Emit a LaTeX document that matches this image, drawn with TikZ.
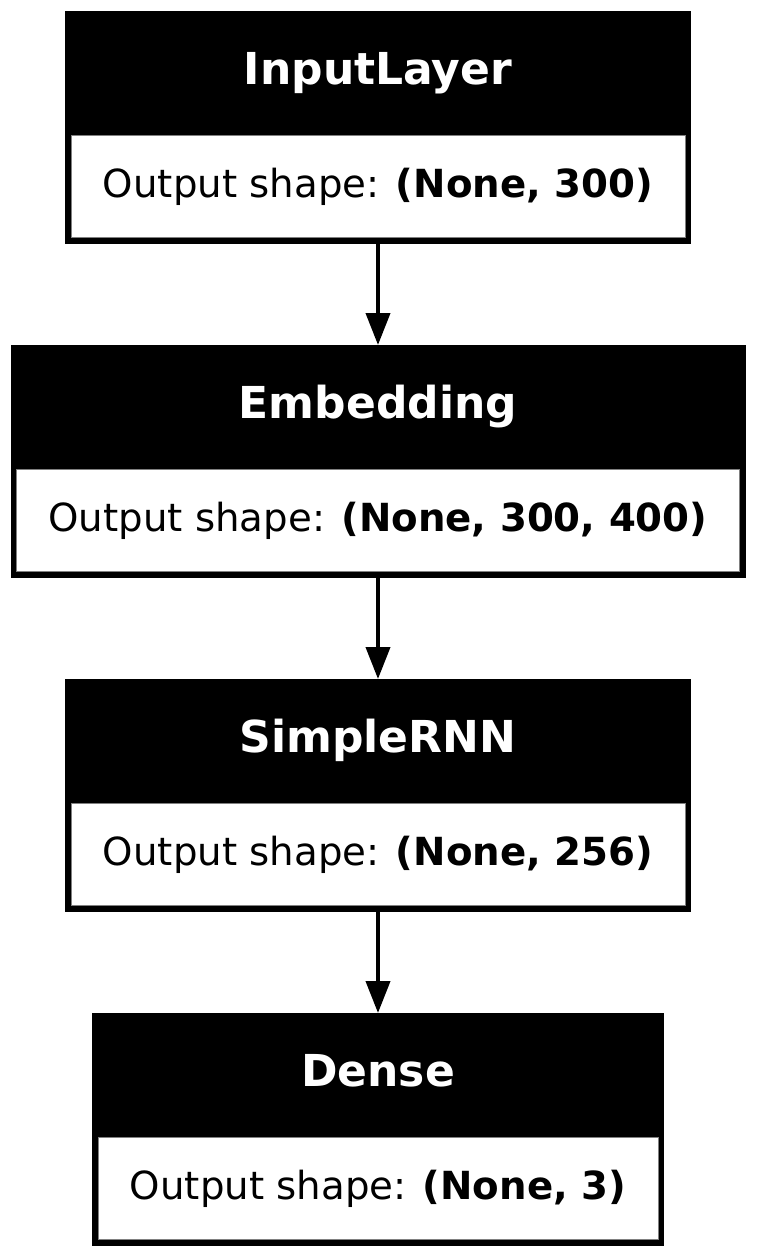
\documentclass[tikz,border=0pt]{standalone}
\usepackage{fontspec}
\setmainfont{DejaVu Sans}
\usetikzlibrary{arrows.meta}
\begin{document}
\begin{tikzpicture}[x=1pt,y=-1pt,
  layer/.style={fill=black,minimum height=233pt,inner sep=0pt},
  lname/.style={text=white,inner sep=0pt,text height=31pt,text depth=10pt,
    font=\fontsize{44}{50}\selectfont\bfseries},
  outbox/.style={fill=white,draw=gray,line width=1pt,minimum height=102pt,
    inner sep=0pt,font=\fontsize{38.7}{44}\selectfont},
  flow/.style={line width=4pt,-{Triangle[length=32pt,width=24pt]}}]
\useasboundingbox (0,0) rectangle (756,1256);
\foreach \nm/\y/\w/\lbl/\dims in {inp/11/626/InputLayer/{300},
    emb/345/735/Embedding/{300, 400},
    rnn/679/626/SimpleRNN/{256},
    dns/1013/572/Dense/{3}} {
  \node[layer,minimum width=\w pt,anchor=north] (\nm) at (378,\y) {};
  \node[outbox,minimum width={(\w-12)*1pt},anchor=south] (\nm-out)
    at ([yshift=6pt]\nm.south) {Output shape: \textbf{(None, \dims)}};
  \node[lname] (\nm-name) at (378,\y+62.5) {\lbl};
}
\draw[flow] (inp.south) -- (emb.north);
\draw[flow] (emb.south) -- (rnn.north);
\draw[flow] (rnn.south) -- (dns.north);
\end{tikzpicture}
\end{document}
